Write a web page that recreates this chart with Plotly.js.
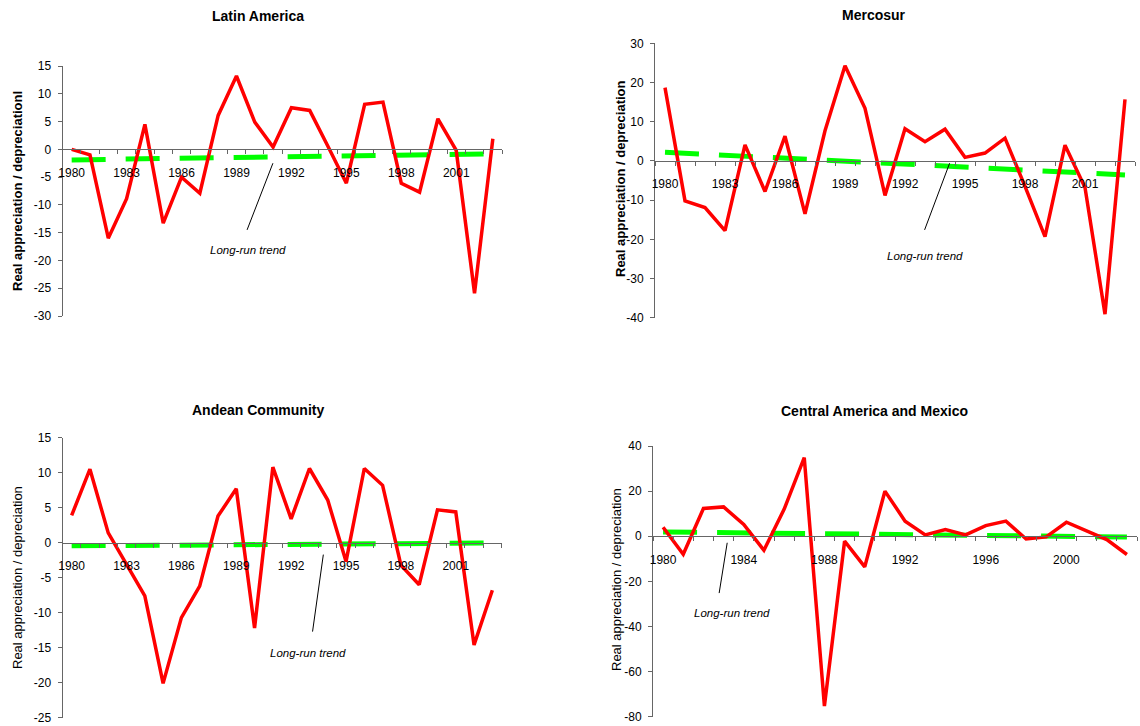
<!DOCTYPE html>
<html>
<head>
<meta charset="utf-8">
<script src="https://cdn.plot.ly/plotly-3.0.1.min.js"></script>
<style>html,body{margin:0;padding:0;background:#fff;}#chart{width:1140px;height:726px;}</style>
</head>
<body>
<div id="chart"></div>
<script>
// ---------------- data ----------------
const years = [1980,1981,1982,1983,1984,1985,1986,1987,1988,1989,1990,1991,
               1992,1993,1994,1995,1996,1997,1998,1999,2000,2001,2002,2003];
const tickYears3 = [1980,1983,1986,1989,1992,1995,1998,2001];
const tickYears4 = [1980,1984,1988,1992,1996,2000];

const latinAmerica = [0,-1.0,-16.0,-8.9,4.5,-13.3,-5.0,-7.9,6.1,13.2,4.9,0.4,
                      7.5,7.0,0.5,-6.1,8.1,8.5,-6.1,-7.7,5.5,-0.2,-25.9,1.9];
const mercosur = [18.7,-10.2,-11.9,-17.8,4.1,-7.8,6.3,-13.5,7.7,24.3,13.4,-8.8,
                  8.2,4.9,8.1,0.9,2.0,5.8,-6.5,-19.3,4.0,-6.8,-39.1,15.7];
const andean = [3.9,10.5,1.4,-3.0,-7.6,-20.1,-10.7,-6.2,3.8,7.7,-12.2,10.8,
                3.4,10.6,6.1,-2.7,10.6,8.2,-3.2,-6.0,4.7,4.4,-14.6,-6.8];
const centralMexico = [4.0,-8.0,12.3,13.0,5.2,-6.2,11.9,34.8,-75.3,-2.2,-13.6,20.0,
                       6.7,0.6,3.0,0.6,4.7,6.7,-1.2,-0.3,6.2,2.2,-1.5,-8.1];

// long-run trend (straight line, start and end)
const trendYears = [1980, 2003];
const latinAmericaTrend = [-1.9, -0.8];
const mercosurTrend = [2.2, -3.6];
const andeanTrend = [-0.45, -0.05];
const centralMexicoTrend = [1.9, -0.35];

const titles = ['Latin America','Mercosur','Andean Community','Central America and Mexico'];
const yTitles = ['Real appreciation / depreciationl','Real appreciation / depreciation',
                 'Real appreciation / depreciation','Real appreciation / depreciation'];
const noteText = 'Long-run trend';

// ---------------- layout helpers ----------------
const W = 1140, H = 726;
const FONT = 'Liberation Sans, Arial, sans-serif';
const AXC = '#666666';

const panels = [
  {vals: latinAmerica, trend: latinAmericaTrend, yr:[-30,15], dt:5, ticks: tickYears3,
   px:[62.5,502], py:[66,316], title:[258,16], yt:[17,191], bold:true,
   note:{x0:1990.99,y0:-2.5,x1:1989.58,y1:-14.5,tx:1989.65,ty:-18.1}},
  {vals: mercosur, trend: mercosurTrend, yr:[-40,30], dt:10, ticks: tickYears3,
   px:[655,1135], py:[43.3,317.7], title:[874,15], yt:[620,179], bold:true,
   note:{x0:1994.23,y0:-0.6,x1:1992.98,y1:-17.6,tx:1992.98,ty:-24.2}},
  {vals: andean, trend: andeanTrend, yr:[-25,15], dt:5, ticks: tickYears3,
   px:[62.5,501.5], py:[437.7,717.7], title:[258,410], yt:[17,578], bold:false,
   note:{x0:1993.76,y0:-1.7,x1:1993.17,y1:-12.7,tx:1992.93,ty:-15.8}},
  {vals: centralMexico, trend: centralMexicoTrend, yr:[-80,40], dt:20, ticks: tickYears4,
   px:[653,1137], py:[446,716.7], title:[874,410.7], yt:[616,580], bold:false,
   note:{x0:1983.18,y0:-2.9,x1:1982.78,y1:-25.2,tx:1983.41,ty:-34.0}}
];

const data = [];
const layout = {
  width: W, height: H,
  margin: {l:0, r:0, t:0, b:0},
  paper_bgcolor: '#ffffff', plot_bgcolor: 'rgba(0,0,0,0)',
  showlegend: false,
  annotations: [], shapes: []
};

const xRange = [years[0]-0.5, years[years.length-1]+0.5];

panels.forEach((p, i) => {
  const n = i === 0 ? '' : String(i+1);
  const xa = 'x' + n, ya = 'y' + n;
  const xd = [p.px[0]/W, p.px[1]/W];
  const yd = [1 - p.py[1]/H, 1 - p.py[0]/H];
  const zeroPos = yd[0] + (0 - p.yr[0])/(p.yr[1]-p.yr[0])*(yd[1]-yd[0]);
  const yTickVals = [];
  for (let v = p.yr[0]; v <= p.yr[1]; v += p.dt) yTickVals.push(v);

  data.push({x: trendYears, y: p.trend, xaxis: xa, yaxis: ya, type:'scatter', mode:'lines',
             line:{color:'#00ff00', width:5, dash:'34px,20px'}, hoverinfo:'skip'});
  data.push({x: years, y: p.vals, xaxis: xa, yaxis: ya, type:'scatter', mode:'lines',
             line:{color:'#ff0000', width:3.5}, hoverinfo:'skip'});

  layout['xaxis' + n] = {
    domain: xd, range: xRange, anchor: 'free', position: zeroPos,
    showline: true, linecolor: AXC, linewidth: 1,
    showgrid: false, zeroline: false,
    tickmode: 'array', tickvals: p.ticks, ticktext: p.ticks.map(String),
    ticks: 'outside', ticklen: 12, tickcolor: 'rgba(0,0,0,0)',
    tickfont: {family: FONT, size: 12, color: '#000'},
    minor: {tickmode: 'linear', tick0: xRange[0], dtick: 1, ticks: 'outside',
            ticklen: 4, tickcolor: AXC, tickwidth: 1, showgrid: false},
    fixedrange: true
  };
  layout['yaxis' + n] = {
    domain: yd, range: p.yr, anchor: xa,
    showline: true, linecolor: AXC, linewidth: 1,
    showgrid: false, zeroline: false,
    tickmode: 'array', tickvals: yTickVals, ticktext: yTickVals.map(String),
    ticks: 'outside', ticklen: 4, tickcolor: AXC,
    ticklabelstandoff: 4,
    tickfont: {family: FONT, size: 12, color: '#000'},
    fixedrange: true
  };

  layout.annotations.push({
    xref:'paper', yref:'paper', x: p.title[0]/W, y: 1 - p.title[1]/H,
    xanchor:'center', yanchor:'middle', showarrow:false,
    text: '<b>' + titles[i] + '</b>',
    font: {family: FONT, size: 14, color:'#000'}
  });
  layout.annotations.push({
    xref:'paper', yref:'paper', x: p.yt[0]/W, y: 1 - p.yt[1]/H,
    xanchor:'center', yanchor:'middle', showarrow:false, textangle:-90,
    text: p.bold ? '<b>' + yTitles[i] + '</b>' : yTitles[i],
    font: {family: FONT, size: 13, color:'#000'}
  });
  layout.annotations.push({
    xref: xa, yref: ya, x: p.note.tx, y: p.note.ty,
    xanchor:'center', yanchor:'middle', showarrow:false,
    text: '<i>' + noteText + '</i>',
    font: {family: FONT, size: 11.5, color:'#000'}
  });
  layout.shapes.push({
    type:'line', xref: xa, yref: ya,
    x0: p.note.x0, y0: p.note.y0, x1: p.note.x1, y1: p.note.y1,
    line: {color:'#000', width:1}
  });
});

Plotly.newPlot('chart', data, layout, {staticPlot: true, displayModeBar: false});
</script>
</body>
</html>
